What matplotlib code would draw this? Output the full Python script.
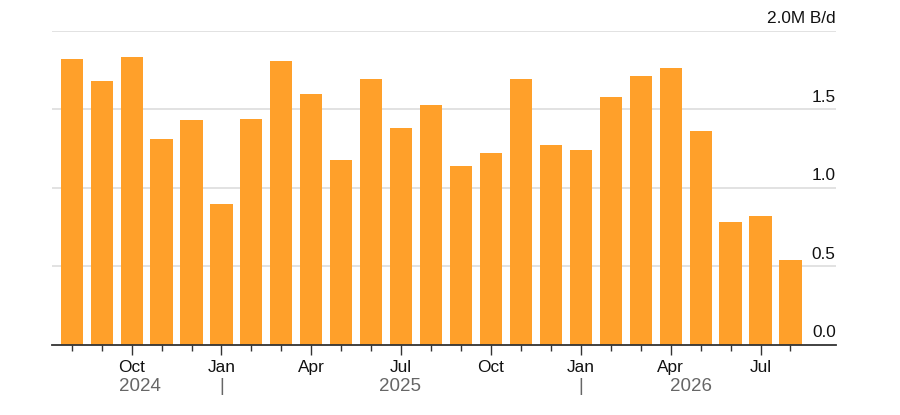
import numpy as np
import matplotlib
matplotlib.use("Agg")
import matplotlib.pyplot as plt

## monthly values, Aug 2024 .. Aug 2026 (M B/d)
months = ["Aug", "Sep", "Oct", "Nov", "Dec",
          "Jan", "Feb", "Mar", "Apr", "May", "Jun", "Jul", "Aug", "Sep", "Oct", "Nov", "Dec",
          "Jan", "Feb", "Mar", "Apr", "May", "Jun", "Jul", "Aug"]
values = [1.82, 1.68, 1.83, 1.31, 1.43,
          0.90, 1.44, 1.81, 1.60, 1.18, 1.69, 1.38, 1.53, 1.14, 1.22, 1.69, 1.27,
          1.24, 1.58, 1.71, 1.76, 1.36, 0.78, 0.82, 0.54]
quarter_labels = ["Oct", "Jan", "Apr", "Jul"]
years = ["2024", "2025", "2026"]
year_pos = [2.28, 10.96, 20.67]
yticks = [0.0, 0.5, 1.0, 1.5, 2.0]
ytick_labels = ["0.0", "0.5", "1.0", "1.5", "2.0M B/d"]

plt.rcParams['font.family'] = ['Liberation Sans', 'DejaVu Sans']

fig = plt.figure(figsize=[9, 4.15], dpi=100)
ax = fig.add_axes([51.7/900, 1-345/415, (835.7-51.7)/900, (345-30.7)/415])

x = np.arange(len(values))
ax.bar(x, values, width=0.74, color='#FFA02A', zorder=2)

ax.set_xlim(-0.668, 25.51)
ax.set_ylim(0, 2.0)

## gridlines + labels on the right, above each line
for v, lab in zip(yticks, ytick_labels):
    if v > 0:
        ax.axhline(v, color='#dddddd', lw=1.2, zorder=1)
    ax.text(1.0, v + 0.03, lab, transform=ax.get_yaxis_transform(),
            ha='right', va='bottom', fontsize=12.4, color='#111111')
ax.set_yticks([])

## ticks: one per month, longer on quarter months
is_q = np.array([m in quarter_labels for m in months])
ax.set_xticks(x[~is_q], minor=True)
ax.set_xticks(x[is_q])
ax.set_xticklabels([m for m in months if m in quarter_labels], fontsize=12.4, color='#111111')
ax.tick_params(axis='x', which='major', length=7, width=1, color='#333333', pad=4)
ax.tick_params(axis='x', which='minor', length=4, width=1, color='#333333')

for s in ['top', 'right', 'left']:
    ax.spines[s].set_visible(False)
ax.spines['bottom'].set_color('#333333')
ax.spines['bottom'].set_linewidth(1.3)
ax.spines['bottom'].set_zorder(3)

## year labels and separators
tr = ax.get_xaxis_transform()
for p, y in zip(year_pos, years):
    ax.text(p, -0.132, y, transform=tr, ha='center', va='center',
            fontsize=13.5, color='#666666')
for i, m in enumerate(months):
    if m == "Jan":
        ax.text(i, -0.132, "|", transform=tr, ha='center', va='center',
                fontsize=13.5, color='#666666')

fig.savefig('out.png', dpi=100)
